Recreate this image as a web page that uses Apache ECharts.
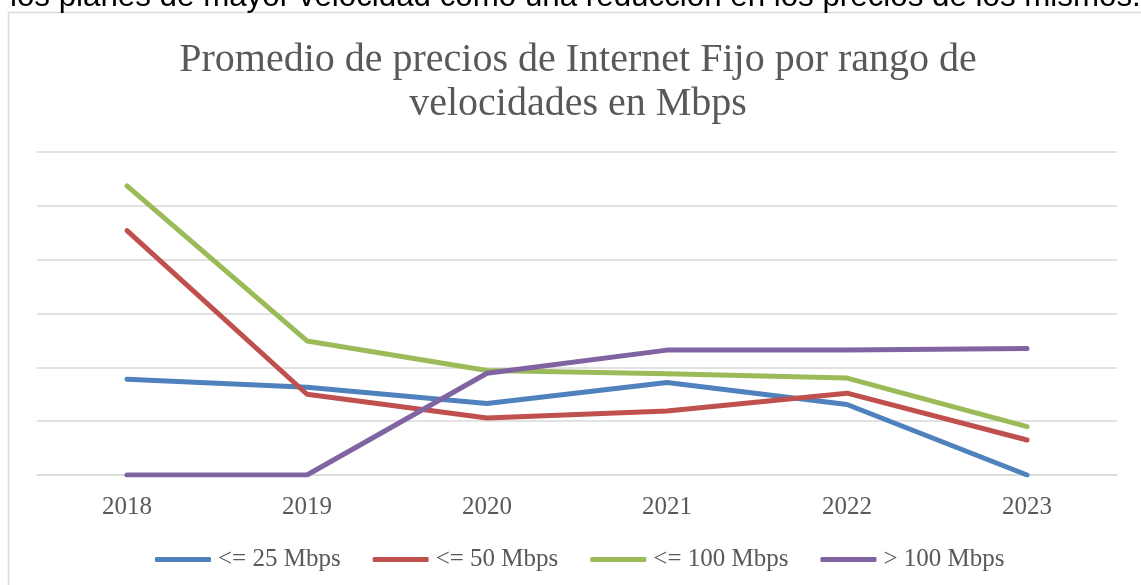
<!DOCTYPE html>
<html>
<head>
<meta charset="utf-8">
<script src="https://cdn.jsdelivr.net/npm/echarts@6/dist/echarts.min.js"></script>
<style>
html,body{margin:0;padding:0;background:#fff;}
#chart{width:1141px;height:585px;}
</style>
</head>
<body>
<div id="chart"></div>
<script>
var categories = ['2018', '2019', '2020', '2021', '2022', '2023'];
var seriesNames = ['<= 25 Mbps', '<= 50 Mbps', '<= 100 Mbps', '> 100 Mbps'];
var le25 = [1.78, 1.63, 1.33, 1.72, 1.31, 0];
var le50 = [4.54, 1.50, 1.06, 1.19, 1.52, 0.65];
var le100 = [5.37, 2.49, 1.94, 1.88, 1.80, 0.90];
var gt100 = [0, 0, 1.89, 2.32, 2.32, 2.35];
var titleText = 'Promedio de precios de Internet Fijo por rango de\nvelocidades en Mbps';
var topText = 'los planes de mayor velocidad como una reducción en los precios de los mismos.';

var colors = ['#4f81bd', '#c0504d', '#9bbb59', '#8064a2'];
var values = [le25, le50, le100, gt100];
var serif = '"Liberation Serif", "DejaVu Serif", serif';

var chart = echarts.init(document.getElementById('chart'), null, {renderer: 'canvas'});
var series = seriesNames.map(function (n, i) {
  return {
    name: n,
    type: 'line',
    data: values[i],
    symbol: 'none',
    showSymbol: false,
    lineStyle: {color: colors[i], width: 5, cap: 'round', join: 'round'},
    itemStyle: {color: colors[i]},
    emphasis: {disabled: true},
    animation: false
  };
});

chart.setOption({
  animation: false,
  backgroundColor: '#fff',
  color: colors,
  graphic: [
    {
      type: 'rect',
      shape: {x: 8.5, y: 12.5, width: 1300, height: 800},
      style: {fill: '#fff', stroke: '#d9d9d9', lineWidth: 1.5},
      z: -10, silent: true
    },
    {
      type: 'text',
      x: 10, y: -3,
      style: {text: topText, font: '31.3px "Liberation Sans", Arial, sans-serif', fill: '#000', verticalAlign: 'middle', align: 'left'},
      silent: true
    }
  ],
  title: {
    text: titleText,
    left: 573,
    top: 33,
    textAlign: 'center',
    textStyle: {fontFamily: serif, fontSize: 40, fontWeight: 'normal', color: '#595959', lineHeight: 44}
  },
  legend: {
    data: seriesNames,
    left: 150,
    top: 542,
    icon: 'roundRect',
    itemWidth: 56,
    itemHeight: 5,
    itemGap: 32,
    textStyle: {fontFamily: serif, fontSize: 25, color: '#595959', padding: [0, 0, 0, 2]}
  },
  grid: {left: 37, right: 24, top: 152, bottom: 110, containLabel: false},
  xAxis: {
    type: 'category',
    data: categories,
    boundaryGap: true,
    axisLine: {show: true, lineStyle: {color: '#d9d9d9', width: 1.5}},
    axisTick: {show: false},
    axisLabel: {fontFamily: serif, fontSize: 25, color: '#595959', margin: 20}
  },
  yAxis: {
    type: 'value',
    min: 0, max: 6, interval: 1,
    axisLine: {show: false},
    axisTick: {show: false},
    axisLabel: {show: false},
    splitLine: {lineStyle: {color: '#d9d9d9', width: 1.5}}
  },
  series: series
});
</script>
</body>
</html>
